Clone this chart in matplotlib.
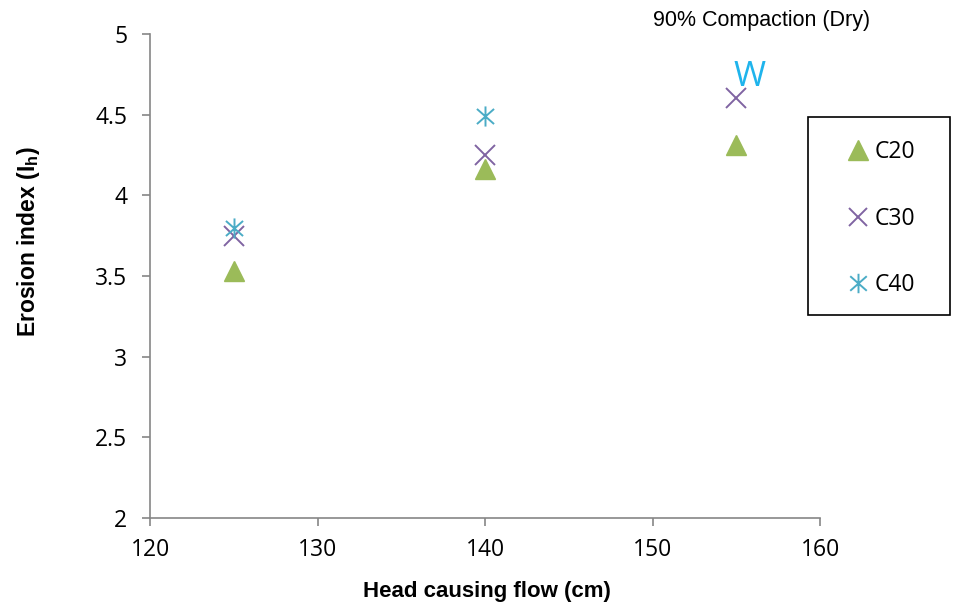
import matplotlib.pyplot as plt
from matplotlib.lines import Line2D
from matplotlib.path import Path
from matplotlib.patches import Rectangle

# head causing flow (cm) and erosion index for each clay content
head = [125, 140, 155]
c20 = [3.53, 4.16, 4.31]
c30 = [3.75, 4.25, 4.60]
c40_head = [125, 140]
c40 = [3.80, 4.49]

plt.rcParams['font.family'] = ['Liberation Sans', 'DejaVu Sans']

# star marker: vertical stroke crossed by an x
star = Path([(0, -1), (0, 1), (-0.85, -0.75), (0.85, 0.75), (-0.85, 0.75), (0.85, -0.75)],
            [Path.MOVETO, Path.LINETO] * 3)

green, purple, cyan = '#9BBB59', '#8064A2', '#4BACC6'
tick_font = ['Open Sans', 'DejaVu Sans']

fig = plt.figure(figsize=(9.56, 6.14), dpi=100)
ax = fig.add_axes([0.157, 0.156, 0.701, 0.789])

ax.plot(head, c20, linestyle='none', marker='^', ms=15, color=green, label='C20')
ax.plot(head, c30, linestyle='none', marker='x', ms=14, mew=1.4, color=purple, label='C30')
ax.plot(c40_head, c40, linestyle='none', marker=star, ms=14.5, mew=1.4, color=cyan, label='C40')

ax.text(155.8, 4.735, 'W', color='#1FB4EC', fontsize=25, ha='center', va='center',
        family=tick_font)

ax.set_xlim(120, 160)
ax.set_ylim(2, 5)
ax.set_xticks([120, 130, 140, 150, 160])
ax.set_yticks([2, 2.5, 3, 3.5, 4, 4.5, 5])
ax.set_yticklabels(['2', '2.5', '3', '3.5', '4', '4.5', '5'])
for lab in ax.get_xticklabels() + ax.get_yticklabels():
    lab.set_family(tick_font)

for side in ['top', 'right']:
    ax.spines[side].set_visible(False)
for side in ['left', 'bottom']:
    ax.spines[side].set_color('#868686')
    ax.spines[side].set_linewidth(1.2)
ax.tick_params(direction='out', length=5.5, width=1.2, color='#868686', labelsize=16.5)
ax.tick_params(axis='y', pad=11)
ax.tick_params(axis='x', pad=9)

ax.set_xlabel('Head causing flow (cm)', fontsize=16, fontweight='bold', va='center')
ax.set_ylabel('Erosion index (I$_\\mathregular{h}$)', fontsize=16.5, fontweight='bold', va='center')
ax.xaxis.set_label_coords(0.503, -0.151)
ax.yaxis.set_label_coords(-0.181, 0.57)

fig.text(0.797, 0.967, '90% Compaction (Dry)', fontsize=15.5, ha='center', va='center')

# legend: fixed black box to the right of the plot, entries centred inside
box = (0.845, 0.487, 0.149, 0.322)
fig.patches.append(Rectangle(box[:2], box[2], box[3], transform=fig.transFigure,
                             fill=False, edgecolor='black', linewidth=1.2))
handles = [
    Line2D([], [], linestyle='none', marker='^', ms=14, color=green),
    Line2D([], [], linestyle='none', marker='x', ms=13, mew=1.4, color=purple),
    Line2D([], [], linestyle='none', marker=star, ms=14, mew=1.4, color=cyan),
]
fig.legend(handles, ['C20', 'C30', 'C40'], loc='center',
           bbox_to_anchor=(box[0] + box[2] / 2, box[1] + box[3] / 2 - 0.004),
           frameon=False, prop={'family': tick_font, 'size': 16.5},
           labelspacing=1.85, handletextpad=0.05, handlelength=1.3)

fig.savefig('out.png', dpi=100)
